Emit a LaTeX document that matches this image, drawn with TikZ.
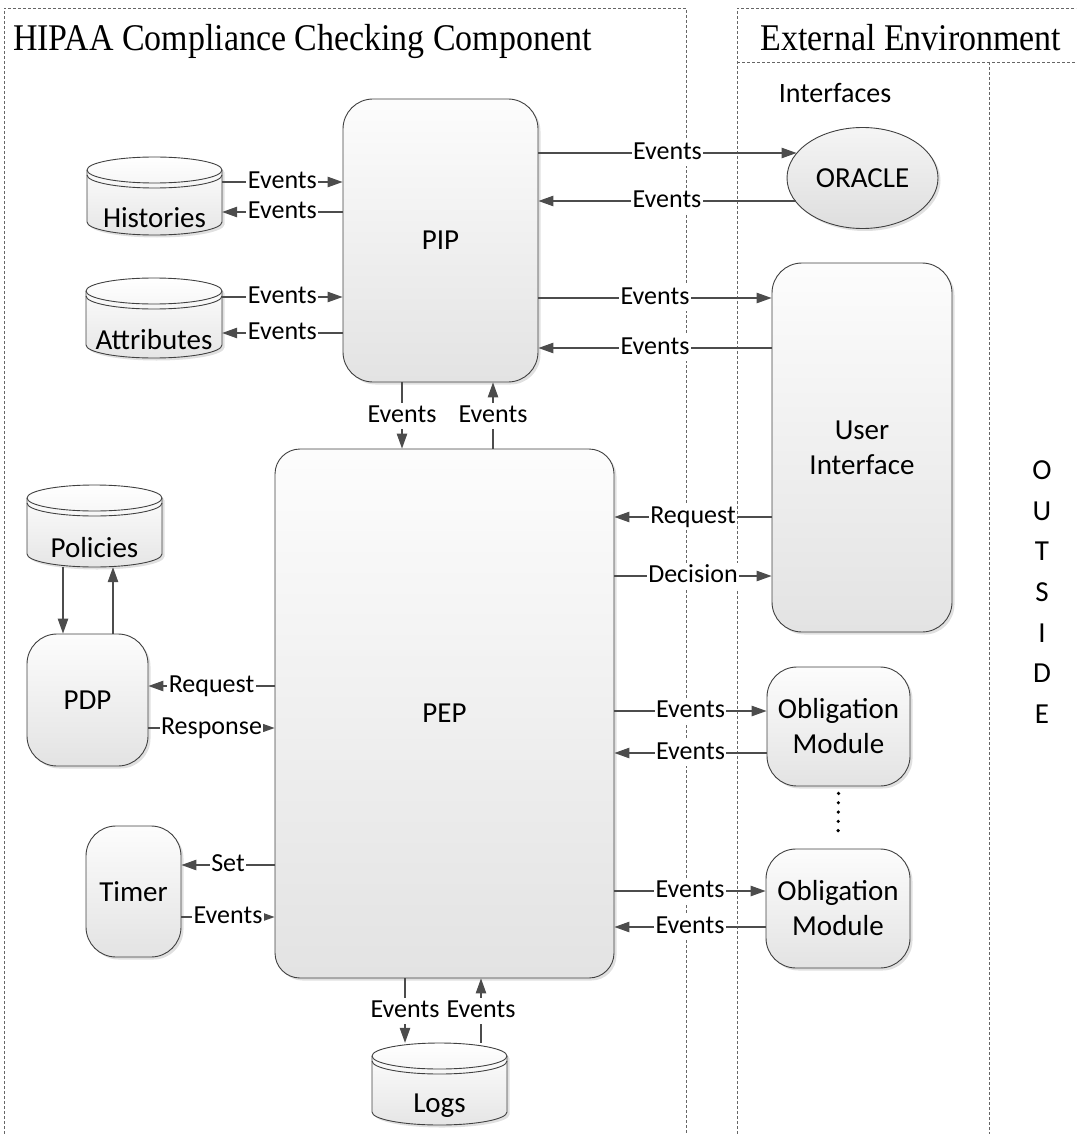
\documentclass[tikz,border=0pt]{standalone}
\usepackage{fontspec}
\setmainfont{Liberation Serif}
\newfontfamily\titlefont[FakeStretch=0.9]{Liberation Serif}
\newfontfamily\calfont{Carlito}
\usetikzlibrary{arrows.meta,shapes.geometric,shadows,calc}
\tikzset{
  frame/.style={draw=black!60, line width=0.8pt, dash pattern=on 3pt off 2pt},
  softshadow/.style={drop shadow={shadow xshift=2.5pt, shadow yshift=-2.5pt, opacity=0.3, fill=black!40}},
  box/.style={draw=black!75, line width=0.9pt, rounded corners=30pt, top color=black!1, bottom color=black!11,
    softshadow, align=center, inner sep=0pt, font=\calfont\fontsize{29}{35}\selectfont},
  oval/.style={ellipse, draw=black!75, line width=0.9pt, top color=black!4, bottom color=black!13,
    softshadow, inner sep=0pt, font=\calfont\fontsize{29}{35}\selectfont},
  cylfill/.style={draw=black!75, line width=0.9pt, top color=white, bottom color=black!10, softshadow},
  cylline/.style={draw=black!75, line width=0.9pt},
  nodetext/.style={font=\calfont\fontsize{29}{35}\selectfont, inner sep=0pt},
  arr/.style={draw=black!70, line width=1.1pt, -{Triangle[length=15pt,width=10.5pt]}},
  lbl/.style={fill=white, inner sep=1.5pt, text height=18pt, text depth=5pt, text=black,
    font=\calfont\fontsize{26}{30}\selectfont},
  dots/.style={draw=black, line width=3.6pt, line cap=round, dash pattern=on 0pt off 9.3pt},
  heading/.style={inner sep=0pt, font=\titlefont\fontsize{37.7}{44}\selectfont},
}
\newcommand\dbcyl[6]{%
  \pgfmathsetmacro\cylcx{(#2+#4)/2}%
  \pgfmathsetmacro\cylrx{(#4-#2)/2}%
  \pgfmathsetmacro\cylcy{(#3+#5)/2}%
  \pgfmathsetmacro\cylty{(#3+26+#5)/2+9}%
  \pgfmathsetmacro\cylw{#4-#2}%
  \pgfmathsetmacro\cylh{#5-#3}%
  \path[cylfill] (#2,#3+13) -- (#2,#5-13)
     arc[start angle=180,end angle=360,x radius=\cylrx pt,y radius=13pt] -- (#4,#3+13)
     arc[start angle=0,end angle=180,x radius=\cylrx pt,y radius=13pt] -- cycle;
  \draw[cylline] (#2,#3+13) arc[start angle=180,end angle=360,x radius=\cylrx pt,y radius=13pt];
  \draw[cylline] (#2,#3+18) arc[start angle=180,end angle=360,x radius=\cylrx pt,y radius=13pt];
  \node[minimum width=\cylw pt, minimum height=\cylh pt, inner sep=0pt] (#1) at (\cylcx,\cylcy) {};
  \node[nodetext] (#1-t) at (\cylcx,\cylty) {#6};
}
\begin{document}
\begin{tikzpicture}[x=1pt,y=-1pt]
\useasboundingbox (0,0) rectangle (1076,1134);
% frames
\draw[frame] (4,1134) -- (4,8) -- (686,8) -- (686,1134);
\draw[frame] (737,1134) -- (737,8) -- (1076,8);
\draw[frame] (737,62) -- (1076,62);
\draw[frame] (989,62) -- (989,1134);
% titles
\node[heading, anchor=base west] (title) at (13,51) {HIPAA Compliance Checking Component};
\node[heading, anchor=base] (ext) at (911,51) {External Environment};
\node[anchor=base, inner sep=0pt, font=\calfont\fontsize{28}{34}\selectfont] (ifc) at (835,103) {Interfaces};
\node[align=center, inner sep=0pt, font=\calfont\fontsize{29}{40.7}\selectfont] (outside) at (1042,592) {O\\U\\T\\S\\I\\D\\E};
% boxes
\node[box, minimum width=195pt, minimum height=283pt] (pip) at (440.5,240.5) {PIP};
\node[oval, minimum width=151pt, minimum height=101pt] (oracle) at (862.5,178) {ORACLE};
\node[box, minimum width=180pt, minimum height=369pt] (ui) at (862,447.5) {User\\Interface};
\node[box, rounded corners=25pt, minimum width=339pt, minimum height=529pt] (pep) at (444.5,713.5) {PEP};
\node[box, minimum width=121pt, minimum height=132pt] (pdp) at (87.5,700) {PDP};
\node[box, minimum width=95pt, minimum height=131pt] (timer) at (133.5,891.5) {Timer};
\node[box, minimum width=143pt, minimum height=119pt] (om1) at (838.5,726.5) {Obligation\\Module};
\node[box, minimum width=144pt, minimum height=119pt] (om2) at (838,908.5) {Obligation\\Module};
% cylinders
\dbcyl{hist}{87}{157}{222}{235}{Histories}
\dbcyl{attr}{86}{278}{222}{358}{Attributes}
\dbcyl{pol}{27}{485}{162}{567}{Policies}
\dbcyl{logs}{372}{1043}{507}{1125}{Logs}
% connectors
\draw[arr] (hist.east |- 0,182) -- node[lbl]{Events} (pip.west |- 0,182);
\draw[arr] (pip.west |- 0,212) -- node[lbl]{Events} (hist.east |- 0,212);
\draw[arr] (attr.east |- 0,297) -- node[lbl]{Events} (pip.west |- 0,297);
\draw[arr] (pip.west |- 0,333) -- node[lbl]{Events} (attr.east |- 0,333);
\draw[arr] (pip.east |- 0,153) -- node[lbl]{Events} ($(oracle.center)+(-66,-25)$);
\draw[arr] ($(oracle.center)+(-67,23)$) -- node[lbl]{Events} (pip.east |- 0,201);
\draw[arr] (pip.east |- 0,298) -- node[lbl]{Events} (ui.west |- 0,298);
\draw[arr] (ui.west |- 0,348) -- node[lbl]{Events} (pip.east |- 0,348);
\draw[arr] (pip.south -| 402,0) -- node[lbl]{Events} (pep.north -| 402,0);
\draw[arr] (pep.north -| 493,0) -- node[lbl]{Events} (pip.south -| 493,0);
\draw[arr] (ui.west |- 0,517) -- node[lbl]{Request} (pep.east |- 0,517);
\draw[arr] (pep.east |- 0,576) -- node[lbl]{Decision} (ui.west |- 0,576);
\draw[arr] (pep.west |- 0,686) -- node[lbl]{Request} (pdp.east |- 0,686);
\draw[arr] (pdp.east |- 0,728) -- node[lbl]{Response} (pep.west |- 0,728);
\draw[arr] (pol.south -| 63,0) -- (pdp.north -| 63,0);
\draw[arr] (pdp.north -| 113,0) -- (pol.south -| 113,0);
\draw[arr] (pep.west |- 0,865) -- node[lbl]{Set} (timer.east |- 0,865);
\draw[arr] (timer.east |- 0,917) -- node[lbl]{Events} (pep.west |- 0,917);
\draw[arr] (pep.east |- 0,711) -- node[lbl]{Events} (om1.west |- 0,711);
\draw[arr] (om1.west |- 0,753) -- node[lbl]{Events} (pep.east |- 0,753);
\draw[arr] (pep.east |- 0,891) -- node[lbl]{Events} (om2.west |- 0,891);
\draw[arr] (om2.west |- 0,927) -- node[lbl]{Events} (pep.east |- 0,927);
\draw[arr] (pep.south -| 405,0) -- node[lbl]{Events} (logs.north -| 405,0);
\draw[arr] (logs.north -| 481,0) -- node[lbl]{Events} (pep.south -| 481,0);
\draw[dots] ([yshift=-7pt]om1.south) -- ([yshift=9pt]om2.north);
\end{tikzpicture}
\end{document}
